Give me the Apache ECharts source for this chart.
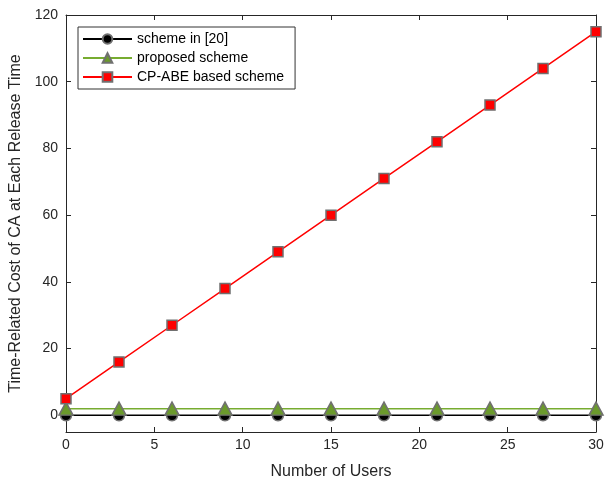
<!DOCTYPE html>
<html>
<head>
<meta charset="utf-8">
<script src="https://cdn.jsdelivr.net/npm/echarts@6/dist/echarts.min.js"></script>
<style>
  html, body { margin: 0; padding: 0; background: #fff; }
  #chart { width: 605px; height: 483px; }
</style>
</head>
<body>
<div id="chart"></div>
<script>
// 数据
const users = [0, 3, 6, 9, 12, 15, 18, 21, 24, 27, 30]
const scheme20 = [0, 0, 0, 0, 0, 0, 0, 0, 0, 0, 0]
const proposed = [2, 2, 2, 2, 2, 2, 2, 2, 2, 2, 2]
const cpabe = [5, 16, 27, 38, 49, 60, 71, 82, 93, 104, 115]
const yTicks = [0, 20, 40, 60, 80, 100, 120]
const xTicks = [0, 5, 10, 15, 20, 25, 30]

const FONT = 'Liberation Sans, Arial, sans-serif'
const pairs = (ys) => users.map((x, i) => [x, ys[i]])

const chart = echarts.init(document.getElementById('chart'))

const axisLine = { show: true, onZero: false, lineStyle: { color: '#262626', width: 1 } }
const tick = { show: true, inside: true, length: 5, lineStyle: { color: '#262626' } }

const option = {
    animation: false,
    backgroundColor: '#fff',
    grid: { left: 66, right: 9, top: 15, bottom: 51, outerBoundsMode: 'none', containLabel: false },
    legend: {
        left: 78,
        top: 27,
        orient: 'vertical',
        backgroundColor: '#fff',
        borderColor: '#333',
        borderWidth: 1,
        borderRadius: 0,
        padding: [5, 11, 5, 4],
        itemWidth: 49,
        itemHeight: 12,
        itemGap: 5,
        textStyle: { fontFamily: FONT, fontSize: 14, color: '#000' },
        data: ['scheme in [20]', 'proposed scheme', 'CP-ABE based scheme']
    },
    xAxis: [{
        type: 'value', min: 0, max: 30, interval: 5,
        name: 'Number of Users', nameLocation: 'middle', nameGap: 32,
        nameTextStyle: { fontFamily: FONT, fontSize: 16, color: '#262626' },
        axisLine, axisTick: tick, splitLine: { show: false },
        axisLabel: { fontFamily: FONT, fontSize: 14, color: '#262626', margin: 6 }
    }, {
        type: 'value', min: 0, max: 30, interval: 5, position: 'top',
        axisLine, axisTick: tick, splitLine: { show: false },
        axisLabel: { show: false }
    }],
    yAxis: [{
        type: 'value', min: -5, max: 120,
        name: 'Time-Related Cost of CA at Each Release Time', nameLocation: 'middle', nameGap: 37,
        nameTextStyle: { fontFamily: FONT, fontSize: 16, color: '#262626' },
        axisLine,
        axisTick: Object.assign({ customValues: yTicks }, tick),
        splitLine: { show: false },
        axisLabel: { customValues: yTicks, fontFamily: FONT, fontSize: 14, color: '#262626', margin: 8 }
    }, {
        type: 'value', min: -5, max: 120, position: 'right',
        axisLine,
        axisTick: Object.assign({ customValues: yTicks }, tick),
        splitLine: { show: false },
        axisLabel: { show: false }
    }],
    series: [{
        name: 'scheme in [20]',
        type: 'line',
        data: pairs(scheme20),
        symbol: 'circle', symbolSize: 11,
        itemStyle: { color: '#000', borderColor: '#707070', borderWidth: 1.5 },
        lineStyle: { color: '#000', width: 1.5 }
    }, {
        name: 'proposed scheme',
        type: 'line',
        data: pairs(proposed),
        symbol: 'triangle', symbolSize: [14, 13],
        itemStyle: { color: '#6b9a2c', borderColor: '#707070', borderWidth: 1.5 },
        lineStyle: { color: '#77ac30', width: 1.5 }
    }, {
        name: 'CP-ABE based scheme',
        type: 'line',
        data: pairs(cpabe),
        symbol: 'rect', symbolSize: 10,
        itemStyle: { color: '#ff0000', borderColor: '#707070', borderWidth: 1.5 },
        lineStyle: { color: '#ff0000', width: 1.5 }
    }]
}

chart.setOption(option)
</script>
</body>
</html>
